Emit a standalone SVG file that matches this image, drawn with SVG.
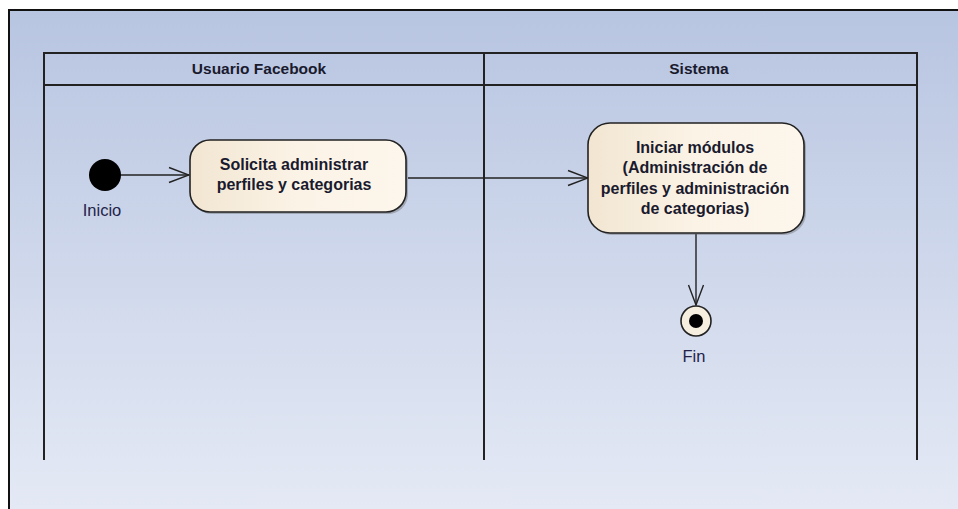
<svg xmlns="http://www.w3.org/2000/svg" width="958" height="509" viewBox="0 0 958 509">
<defs>
<linearGradient id="bg" x1="0" y1="0" x2="0" y2="1">
<stop offset="0" stop-color="#B8C5E1"/>
<stop offset="1" stop-color="#E5EAF5"/>
</linearGradient>
<linearGradient id="act" x1="0" y1="0" x2="1" y2="0">
<stop offset="0" stop-color="#F2E6D2"/>
<stop offset="0.5" stop-color="#FBF3E6"/>
<stop offset="1" stop-color="#FDF6EC"/>
</linearGradient>
<marker id="open" viewBox="0 0 22 20" refX="21" refY="10" markerWidth="22" markerHeight="20" markerUnits="userSpaceOnUse" orient="auto">
<path d="M1,2.5 L21,10 L1,17.5" fill="none" stroke="#222" stroke-width="1.4"/>
</marker>
</defs>
<style>
.lane{fill:none;stroke:#222;stroke-width:2}
.hdr{font-family:"Liberation Sans",Arial,sans-serif;font-weight:bold;font-size:15.5px;fill:#1a1a2e;text-anchor:middle}
.act{fill:url(#act);stroke:#222;stroke-width:1.6}
.at{font-family:"Liberation Sans",Arial,sans-serif;font-weight:bold;font-size:16px;fill:#1a1a2e;text-anchor:middle}
.lbl{font-family:"Liberation Sans",Arial,sans-serif;font-size:16.5px;fill:#23234a;text-anchor:middle}
.con{fill:none;stroke:#222;stroke-width:1.4;marker-end:url(#open)}
</style>
<rect x="0" y="0" width="958" height="509" fill="#ffffff"/>
<rect x="9" y="10" width="960" height="510" fill="url(#bg)" stroke="#111" stroke-width="2"/>
<g id="lanes">
<path class="lane" d="M44,460 V53 H917 V460 M484,53 V460 M44,85 H917"/>
<text class="hdr" x="259" y="74">Usuario Facebook</text>
<text class="hdr" x="699" y="74">Sistema</text>
</g>
<g id="connectors">
<line class="con" x1="121" y1="175" x2="189" y2="175"/>
<line class="con" x1="408" y1="178" x2="588" y2="178"/>
<line class="con" x1="696" y1="234" x2="696" y2="305"/>
</g>
<g id="inicio">
<circle cx="105" cy="175" r="16" fill="#000"/>
<text class="lbl" x="102" y="216">Inicio</text>
</g>
<g id="solicita">
<rect x="192" y="142" width="216" height="72" rx="20" fill="#555" opacity="0.35"/>
<rect class="act" x="190" y="140" width="216" height="72" rx="20"/>
<text class="at" x="294" y="170">Solicita administrar</text>
<text class="at" x="294" y="190">perfiles y categorias</text>
</g>
<g id="iniciar">
<rect x="590" y="125" width="216" height="110" rx="22" fill="#555" opacity="0.35"/>
<rect class="act" x="588" y="123" width="216" height="110" rx="22"/>
<text class="at" x="695" y="153">Iniciar módulos</text>
<text class="at" x="695" y="173">(Administración de</text>
<text class="at" x="695" y="194">perfiles y administración</text>
<text class="at" x="695" y="214">de categorias)</text>
</g>
<g id="fin">
<circle cx="696" cy="321" r="15" fill="#F6EEDF" stroke="#222" stroke-width="1.6"/>
<circle cx="696" cy="321" r="7" fill="#000"/>
<text class="lbl" x="694" y="362">Fin</text>
</g>
</svg>
